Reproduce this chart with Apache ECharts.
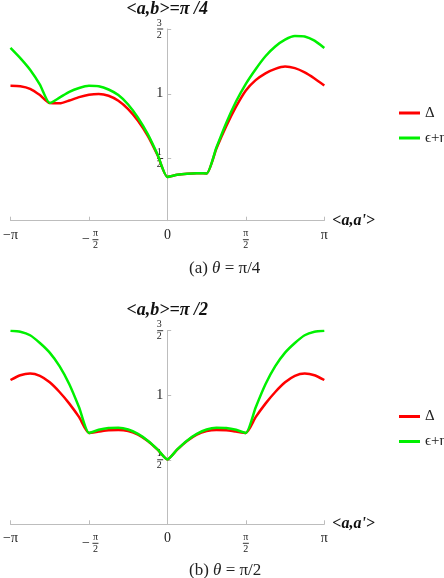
<!DOCTYPE html>
<html>
<head>
<meta charset="utf-8">
<script src="https://cdn.jsdelivr.net/npm/echarts@6/dist/echarts.min.js"></script>
<style>
  html, body { margin: 0; padding: 0; background: #fff; }
  #chart { width: 444px; height: 578px; }
</style>
</head>
<body>
<div id="chart"></div>
<script>
// phase <a,a'> in units of pi
const phase = [-1, -0.9375, -0.875, -0.8125, -0.75, -0.6875, -0.625, -0.5625, -0.5,
  -0.4375, -0.375, -0.3125, -0.25, -0.1875, -0.125, -0.0625, 0,
  0.0625, 0.125, 0.1875, 0.25, 0.3125, 0.375, 0.4375, 0.5,
  0.5625, 0.625, 0.6875, 0.75, 0.8125, 0.875, 0.9375, 1]

// (a) theta = pi/4
const deltaA = [1.061, 1.058, 1.038, 0.99, 0.928, 0.926, 0.948, 0.974, 0.992,
  0.998, 0.985, 0.946, 0.882, 0.792, 0.675, 0.525, 0.358,
  0.374, 0.383, 0.387, 0.385, 0.578, 0.75, 0.9, 1.025,
  1.105, 1.158, 1.192, 1.21, 1.198, 1.165, 1.118, 1.064]
const epsA = [1.354, 1.275, 1.185, 1.07, 0.928, 0.97, 1.015, 1.045, 1.062,
  1.058, 1.033, 0.99, 0.917, 0.815, 0.688, 0.53, 0.358,
  0.374, 0.383, 0.387, 0.385, 0.585, 0.775, 0.94, 1.077,
  1.19, 1.29, 1.365, 1.418, 1.446, 1.442, 1.41, 1.354]

// (b) theta = pi/2
const deltaB = [1.118, 1.155, 1.168, 1.15, 1.1, 1.025, 0.935, 0.83, 0.708,
  0.718, 0.728, 0.73, 0.722, 0.695, 0.645, 0.578, 0.503,
  0.578, 0.645, 0.695, 0.722, 0.73, 0.728, 0.718, 0.708,
  0.83, 0.935, 1.025, 1.1, 1.15, 1.168, 1.155, 1.118]
const epsB = [1.5, 1.492, 1.465, 1.405, 1.33, 1.225, 1.085, 0.905, 0.708,
  0.732, 0.746, 0.748, 0.735, 0.7, 0.648, 0.58, 0.503,
  0.58, 0.648, 0.7, 0.735, 0.748, 0.746, 0.732, 0.708,
  0.905, 1.085, 1.225, 1.33, 1.405, 1.465, 1.492, 1.5]

const yTicks = [0.5, 1, 1.5]
const seriesNames = ['Δ', 'ϵ+η']
const yTitles = ['<a,b>=π /4', '<a,b>=π /2']
const captions = ['(a) {i|θ} = π/4', '(b) {i|θ} = π/2']

const SERIF = 'Liberation Serif, DejaVu Serif, serif'
const AXIS_GRAY = '#bdbdbd'
const TXT = '#222'

const fracRich = {
  t: { fontSize: 14, fontFamily: SERIF, color: TXT, lineHeight: 11 },
  n: { fontSize: 10, fontFamily: SERIF, color: TXT, lineHeight: 8, width: 8, align: 'center' },
  b: { fontSize: 1, width: 6, height: 1, lineHeight: 4, backgroundColor: '#333' },
  m: { fontSize: 14, fontFamily: SERIF, color: TXT, width: 13, lineHeight: 4 },
  s: { fontSize: 8, width: 13, lineHeight: 8 }
}

function xLabel (v) {
  if (v === -1) return '{t|−π}'
  if (v === -0.5) return '{s| }{n|π}\n{m|−}{b| }\n{s| }{n|2}'
  if (v === 0) return '{t|0}'
  if (v === 0.5) return '{n|π}\n{b| }\n{n|2}'
  if (v === 1) return '{t|π}'
  return ''
}

function yLabel (v) {
  if (v === 0.5) return '{n|1}\n{b| }\n{n|2}'
  if (v === 1) return '{t|1}'
  if (v === 1.5) return '{n|3}\n{b| }\n{n|2}'
  return ''
}

const grids = [
  { left: 10, right: 119.7, top: 28.3, height: 192.4 },
  { left: 10, right: 119.7, top: 330.7, height: 193.6 }
]
const yMins = [0.02, 0]
// y axis sits on <a,a'> = 0, i.e. in the middle of the grid
const yAxisShift = -156.7

const chart = echarts.init(document.getElementById('chart'), null, { renderer: 'canvas' })

const option = {
  animation: false,
  backgroundColor: '#fff',
  grid: grids,
  xAxis: grids.map((g, i) => ({
    type: 'value',
    gridIndex: i,
    min: -1,
    max: 1,
    interval: 0.5,
    name: "<a,a'>",
    nameLocation: 'end',
    nameGap: 8,
    nameTextStyle: { fontFamily: SERIF, fontWeight: 'bold', fontStyle: 'italic', fontSize: 16, color: '#111' },
    axisLine: { onZero: false, lineStyle: { color: AXIS_GRAY, width: 1 } },
    axisTick: { inside: true, length: 4, lineStyle: { color: AXIS_GRAY } },
    axisLabel: { margin: 9, formatter: xLabel, rich: fracRich },
    splitLine: { show: false }
  })),
  yAxis: grids.map((g, i) => ({
    type: 'value',
    gridIndex: i,
    min: yMins[i],
    max: 1.5,
    offset: yAxisShift,
    name: yTitles[i],
    nameLocation: 'end',
    nameGap: 11,
    nameTextStyle: { fontFamily: SERIF, fontWeight: 'bold', fontStyle: 'italic', fontSize: 18, color: '#111' },
    axisLine: { show: true, onZero: false, lineStyle: { color: AXIS_GRAY, width: 1 } },
    axisTick: { show: true, inside: true, length: 4, customValues: yTicks, lineStyle: { color: AXIS_GRAY } },
    axisLabel: { margin: 4, customValues: yTicks, formatter: yLabel, rich: fracRich },
    splitLine: { show: false }
  })),
  legend: [100, 403.5].map(top => ({
    orient: 'vertical',
    left: 394,
    top,
    icon: 'rect',
    itemWidth: 21,
    itemHeight: 3,
    itemGap: 9,
    data: seriesNames,
    textStyle: { fontFamily: SERIF, fontSize: 15, lineHeight: 16, color: TXT }
  })),
  title: captions.map((text, i) => ({
    text,
    left: 184,
    top: i === 0 ? 255 : 557,
    textStyle: {
      fontFamily: SERIF, fontSize: 17, fontWeight: 'normal', color: TXT,
      rich: { i: { fontFamily: SERIF, fontStyle: 'italic', fontSize: 17, color: TXT } }
    }
  })),
  series: [
    [deltaA, 0, '#ff0000', seriesNames[0]],
    [epsA, 0, '#00f000', seriesNames[1]],
    [deltaB, 1, '#ff0000', seriesNames[0]],
    [epsB, 1, '#00f000', seriesNames[1]]
  ].map(([vals, gi, color, name]) => ({
    type: 'line',
    name,
    xAxisIndex: gi,
    yAxisIndex: gi,
    data: phase.map((p, k) => [p, vals[k]]),
    showSymbol: false,
    smooth: 0.2,
    lineStyle: { color, width: 2.5 },
    itemStyle: { color }
  }))
}

chart.setOption(option)
</script>
</body>
</html>
